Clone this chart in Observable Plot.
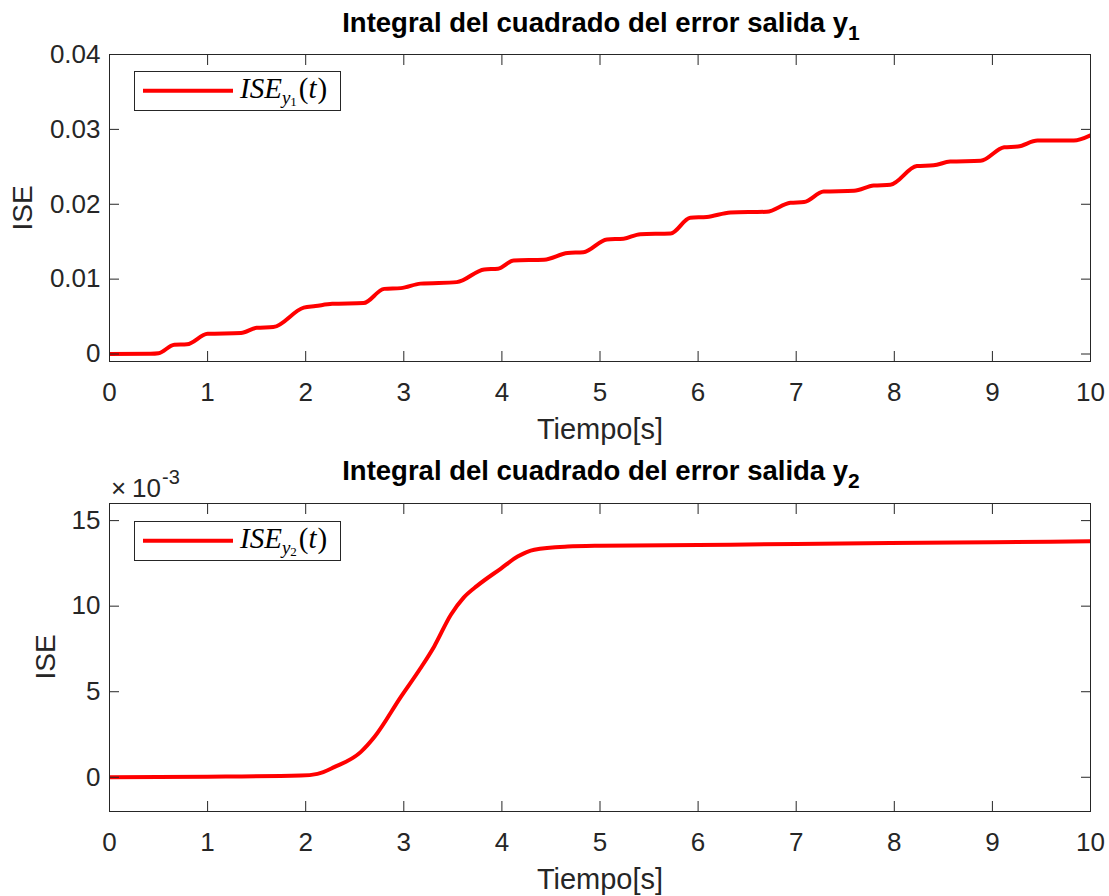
<!DOCTYPE html>
<html>
<head>
<meta charset="utf-8">
<script src="https://cdn.jsdelivr.net/npm/d3@7"></script>
<script src="https://cdn.jsdelivr.net/npm/@observablehq/plot@0.6"></script>
<style>
  html, body { margin: 0; padding: 0; background: white; }
  #wrap { position: relative; width: 1109px; height: 896px; overflow: hidden; background: white; }
  .panel { position: absolute; left: 0; width: 1109px; height: 448px; }
  #overlay { position: absolute; left: 0; top: 0; pointer-events: none; }
</style>
</head>
<body>
<div id="wrap">
  <div id="p1" class="panel" style="top:0px"></div>
  <div id="p2" class="panel" style="top:448px"></div>
  <svg id="overlay" width="1109" height="896" xmlns="http://www.w3.org/2000/svg">
    <!-- titles -->
    <text x="601" y="32" text-anchor="middle" font-family="'Liberation Sans', Arial, sans-serif" font-weight="bold" font-size="27.5" fill="#000">Integral del cuadrado del error salida y<tspan font-size="21" dy="8">1</tspan></text>
    <text x="601" y="480" text-anchor="middle" font-family="'Liberation Sans', Arial, sans-serif" font-weight="bold" font-size="27.5" fill="#000">Integral del cuadrado del error salida y<tspan font-size="21" dy="8">2</tspan></text>
    <!-- x labels -->
    <text x="600" y="439" text-anchor="middle" font-family="'Liberation Sans', Arial, sans-serif" font-size="29" fill="#262626">Tiempo[s]</text>
    <text x="600" y="889" text-anchor="middle" font-family="'Liberation Sans', Arial, sans-serif" font-size="29" fill="#262626">Tiempo[s]</text>
    <!-- y labels -->
    <text transform="translate(32,208) rotate(-90)" text-anchor="middle" font-family="'Liberation Sans', Arial, sans-serif" font-size="28" fill="#262626">ISE</text>
    <text transform="translate(55,657) rotate(-90)" text-anchor="middle" font-family="'Liberation Sans', Arial, sans-serif" font-size="28" fill="#262626">ISE</text>
    <!-- exponent -->
    <text x="111" y="497" font-family="'Liberation Sans', Arial, sans-serif" font-size="26" fill="#262626">×<tspan x="132">10</tspan><tspan x="162" dy="-13" font-size="20">-3</tspan></text>
    <!-- legend 1 -->
    <rect x="134.5" y="71.5" width="206" height="39" fill="white" stroke="#262626" stroke-width="1"/>
    <line x1="143" y1="90.7" x2="233" y2="90.7" stroke="#ff0000" stroke-width="4"/>
    <text x="240" y="97.5" font-family="'Liberation Serif', 'Times New Roman', serif" font-size="29" fill="#000"><tspan font-style="italic">ISE</tspan><tspan font-style="italic" font-size="19" dy="6">y</tspan><tspan font-size="13" dy="2">1</tspan><tspan dy="-8" dx="2">(</tspan><tspan font-style="italic">t</tspan><tspan dx="1">)</tspan></text>
    <!-- legend 2 -->
    <rect x="134.5" y="521.5" width="206" height="39" fill="white" stroke="#262626" stroke-width="1"/>
    <line x1="143" y1="540.7" x2="233" y2="540.7" stroke="#ff0000" stroke-width="4"/>
    <text x="240" y="547.5" font-family="'Liberation Serif', 'Times New Roman', serif" font-size="29" fill="#000"><tspan font-style="italic">ISE</tspan><tspan font-style="italic" font-size="19" dy="6">y</tspan><tspan font-size="13" dy="2">2</tspan><tspan dy="-8" dx="2">(</tspan><tspan font-style="italic">t</tspan><tspan dx="1">)</tspan></text>
  </svg>
</div>
<script>
// ---- data ----
const xTicks = [0, 1, 2, 3, 4, 5, 6, 7, 8, 9, 10];

// Top panel: ISE of output y1
const t1 = [0, 0.42, 0.50, 0.66, 0.79, 1.0, 1.34, 1.5, 1.67, 1.98, 2.1, 2.27, 2.59, 2.80, 2.97, 3.17, 3.54, 3.82, 3.96, 4.12, 4.43, 4.67, 4.83, 5.07, 5.24, 5.41, 5.72, 5.92, 6.09, 6.33, 6.70, 6.94, 7.08, 7.28, 7.59, 7.79, 7.96, 8.23, 8.40, 8.57, 8.88, 9.12, 9.26, 9.46, 9.83, 10.0];
const ise1 = [0, 0.00003, 0.0001, 0.00124, 0.0013, 0.0027, 0.0028, 0.0035, 0.0036, 0.0062, 0.0064, 0.0067, 0.0068, 0.0087, 0.0088, 0.0094, 0.0096, 0.0113, 0.0114, 0.0125, 0.0126, 0.0135, 0.0136, 0.0153, 0.0154, 0.0160, 0.0161, 0.0182, 0.0183, 0.0189, 0.0190, 0.0202, 0.0203, 0.0217, 0.0218, 0.0225, 0.0226, 0.0251, 0.0252, 0.0257, 0.0258, 0.0276, 0.0277, 0.0285, 0.0285, 0.0292];
const y1Ticks = [0, 0.01, 0.02, 0.03, 0.04];
const y1Labels = ["0", "0.01", "0.02", "0.03", "0.04"];

// Bottom panel: ISE of output y2 (units of 1e-3)
const t2 = [0, 1.0, 1.95, 2.12, 2.29, 2.56, 2.70, 2.97, 3.17, 3.31, 3.48, 3.61, 3.75, 3.99, 4.16, 4.33, 4.67, 5.0, 6.0, 7.0, 7.96, 9.0, 10.0];
const ise2 = [0, 0.03, 0.1, 0.2, 0.59, 1.47, 2.35, 4.7, 6.37, 7.65, 9.5, 10.5, 11.2, 12.2, 12.9, 13.3, 13.48, 13.53, 13.58, 13.63, 13.69, 13.74, 13.79];
const y2Ticks = [0, 5, 10, 15];
const y2Labels = ["0", "5", "10", "15"];

function panel(t, v, yDomain, yTicks, yLabels, mt, mb) {
  const data = t.map((d, i) => ({t: d, v: v[i]}));
  const axisColor = "#262626";
  return Plot.plot({
    width: 1109, height: 448,
    marginTop: mt, marginBottom: mb, marginLeft: 109, marginRight: 19,
    style: {fontFamily: "'Liberation Sans', Arial, sans-serif", fontSize: "26px", color: axisColor, background: "white", overflow: "visible"},
    x: {domain: [0, 10]},
    y: {domain: yDomain},
    marks: [
      Plot.line(data, {x: "t", y: "v", stroke: "#ff0000", strokeWidth: 4, curve: "monotone-x", clip: true}),
      Plot.axisX({anchor: "bottom", ticks: xTicks, tickSize: 0, tickPadding: 21, tickFormat: d => String(d), label: null}),
      Plot.axisX({anchor: "bottom", ticks: xTicks, tickSize: -10, fill: "none"}),
      Plot.axisX({anchor: "top", ticks: xTicks, tickSize: -10, fill: "none"}),
      Plot.axisY({anchor: "left", ticks: yTicks, tickSize: 0, tickPadding: 9, tickFormat: d => yLabels[yTicks.indexOf(d)], label: null}),
      Plot.axisY({anchor: "left", ticks: yTicks, tickSize: -10, fill: "none"}),
      Plot.axisY({anchor: "right", ticks: yTicks, tickSize: -10, fill: "none"}),
      Plot.frame({stroke: axisColor})
    ]
  });
}

document.getElementById("p1").append(panel(t1, ise1, [-0.001, 0.04], y1Ticks, y1Labels, 54, 87));
document.getElementById("p2").append(panel(t2, ise2, [-2, 16], y2Ticks, y2Labels, 55, 85));
</script>
</body>
</html>
